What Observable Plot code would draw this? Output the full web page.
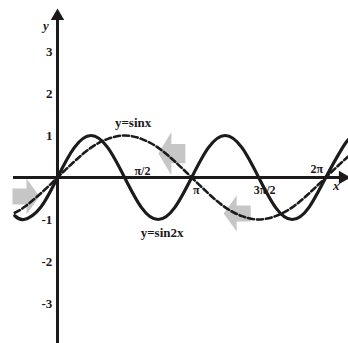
<!DOCTYPE html>
<html>
<head>
<meta charset="utf-8">
<script src="https://cdn.jsdelivr.net/npm/d3@7"></script>
<script src="https://cdn.jsdelivr.net/npm/@observablehq/plot@0.6"></script>
<style>
  html, body { margin: 0; padding: 0; background: #fff; }
  #chart svg { display: block; }
</style>
</head>
<body>
<div id="chart"></div>
<script>
// Sample points (radians)
const xs = [-1.0, -0.785, -0.393, 0, 0.393, 0.785, 1.178, 1.571, 1.963, 2.356, 2.749, 3.142, 3.534, 3.927, 4.320, 4.712, 5.105, 5.498, 5.890, 6.283, 6.676, 6.81];
const sin2xValues = [-0.91, -1, -0.71, 0, 0.71, 1, 0.71, 0, -0.71, -1, -0.71, 0, 0.71, 1, 0.71, 0, -0.71, -1, -0.71, 0, 0.71, 0.9];
const sinxValues  = [-0.84, -0.71, -0.38, 0, 0.38, 0.71, 0.92, 1, 0.92, 0.71, 0.38, 0, -0.38, -0.71, -0.92, -1, -0.92, -0.71, -0.38, 0, 0.38, 0.5];

// Y tick labels
const yTickValues = [-3, -2, -1, 1, 2, 3];
const yTickLabels = ["-3", "-2", "-1", "1", "2", "3"];

// Annotation texts and their anchors (data units)
const noteTexts = ["π/2", "π", "3π/2", "2π", "y=sinx", "y=sin2x"];
const noteX = [1.99, 3.25, 4.85, 6.07, 1.77, 2.45];
const noteY = [0.15, -0.3, -0.3, 0.19, 1.29, -1.31];

const axisNames = ["x", "y"];
const axisNameX = [6.53, -0.27];
const axisNameY = [-0.19, 3.62];

// Gray block arrows: centers and directions (+1 right, -1 left)
const arrowX = [-0.75, 2.69, 4.22];
const arrowY = [-0.45, 0.57, -0.86];
const arrowDir = [1, -1, -1];

const PX_X = 42.7, PX_Y = 42;
const shape = [[-13, -8], [1, -8], [1, -18], [14, 0], [1, 18], [1, 8], [-13, 8]];
const arrowPolys = arrowX.flatMap((cx, i) => {
  const k = i === 1 ? 1.2 : 1;
  return shape.map(([a, c]) => ({id: i, x: cx + arrowDir[i] * a / PX_X, y: arrowY[i] + k * c / PX_Y}));
});

const sin2x = xs.map((x, i) => ({x, y: sin2xValues[i]}));
const sinx = xs.map((x, i) => ({x, y: sinxValues[i]}));
const ticks = yTickValues.map((v, i) => ({v, label: yTickLabels[i]}));
const notes = noteTexts.map((t, i) => ({t, x: noteX[i], y: noteY[i], big: i >= 4}));
const names = axisNames.map((t, i) => ({t, x: axisNameX[i], y: axisNameY[i]}));

const ink = "#1c1a1a";
const font = "Liberation Serif";

const chart = Plot.plot({
  width: 348,
  height: 343,
  margin: 0,
  x: {domain: [-57 / PX_X, 291 / PX_X], axis: null},
  y: {domain: [-166 / PX_Y, 177 / PX_Y], axis: null},
  style: {background: "#fff", fontFamily: font},
  marks: [
    Plot.line(arrowPolys, {x: "x", y: "y", z: "id", fill: "#c6c6c6", stroke: "none", curve: "linear-closed"}),
    // axes
    Plot.ruleY([0], {x1: -1.03, x2: 6.7, stroke: ink, strokeWidth: 3}),
    Plot.ruleX([0], {y1: -3.96, y2: 3.85, stroke: ink, strokeWidth: 3}),
    Plot.dot([{x: 6.68, y: 0}], {x: "x", y: "y", symbol: "triangle", r: 5, fill: ink, stroke: "none", rotate: 90}),
    Plot.dot([{x: 0, y: 3.84}], {x: "x", y: "y", symbol: "triangle", r: 5, fill: ink, stroke: "none"}),
    // curves
    Plot.line(sinx, {x: "x", y: "y", curve: "natural", stroke: ink, strokeWidth: 2.6, strokeDasharray: "6,3"}),
    Plot.line(sin2x, {x: "x", y: "y", curve: "natural", stroke: ink, strokeWidth: 3.2}),
    // tick labels
    Plot.text(ticks, {x: () => -0.12, y: "v", text: "label", textAnchor: "end", fontSize: 13, fontWeight: "bold", fill: ink}),
    Plot.text(notes.filter(d => !d.big), {x: "x", y: "y", text: "t", fontSize: 12, fontWeight: "bold", fill: ink}),
    Plot.text(notes.filter(d => d.big), {x: "x", y: "y", text: "t", fontSize: 13, fontWeight: "bold", fill: ink, style: {letterSpacing: "0.5px"}}),
    Plot.text(names, {x: "x", y: "y", text: "t", fontSize: 13, fontWeight: "bold", fontStyle: "italic", fill: ink})
  ]
});
document.getElementById("chart").appendChild(chart);
</script>
</body>
</html>
